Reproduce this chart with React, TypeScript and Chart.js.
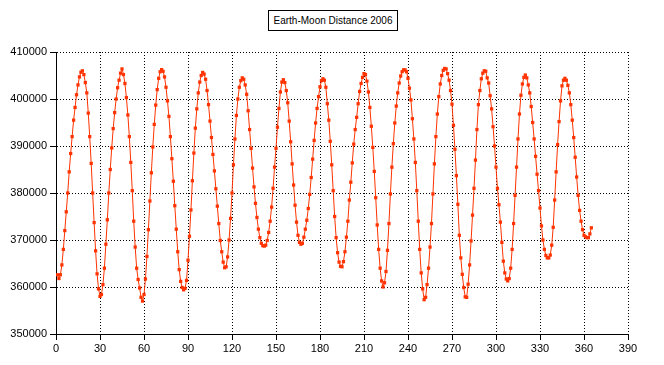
import { useEffect, useRef } from "react";
import { Chart, registerables } from "chart.js";

Chart.register(...registerables);

const chartTitle = "Earth-Moon Distance 2006";
const xTicks = [0, 30, 60, 90, 120, 150, 180, 210, 240, 270, 300, 330, 360, 390];
const yTicks = [350000, 360000, 370000, 380000, 390000, 400000, 410000];

// daily Earth-Moon distance (km), day 1 = Jan 1
const distJan = [362600, 361800, 362600, 364700, 368000, 372000, 376000, 380000, 384500, 388400, 392000, 395500, 398200, 400900, 403000, 404700, 405700, 406000, 405200, 403500, 401300, 397000, 392000, 386300, 380000, 373700, 367700, 362800, 359600, 358000, 358400];
const distFeb = [360500, 364000, 369100, 374300, 380000, 385000, 389600, 393700, 397100, 400000, 402400, 404000, 405500, 406400, 405200, 403300, 400300, 396600, 392000, 386500, 380500, 374000, 368500, 364000, 361600, 359800, 357800, 357000];
const distMar = [358400, 361700, 366500, 372200, 378300, 384300, 389800, 394600, 398700, 402000, 404400, 405800, 406250, 405900, 404700, 402500, 399600, 396300, 392000, 387300, 382500, 377300, 372300, 367500, 363700, 361200, 359900, 359400, 359700, 361400, 365700];
const distApr = [370800, 376400, 382600, 388500, 393800, 397900, 401300, 403600, 405000, 405650, 405300, 404200, 401800, 398800, 395300, 391800, 388200, 384700, 380900, 377200, 373500, 369900, 367500, 365300, 364100, 364300, 366400, 370000, 374600, 380000];
const distMay = [386000, 391500, 396500, 400000, 402500, 403900, 404500, 404200, 403000, 401000, 397500, 393500, 389500, 385300, 381300, 377800, 374800, 372300, 370500, 369300, 368800, 368700, 368900, 369900, 371600, 374000, 377000, 381000, 385500, 389500, 394000];
const distJun = [398000, 401500, 403600, 404100, 403500, 401800, 399200, 395300, 390900, 386200, 381700, 377400, 373800, 371000, 369500, 369100, 369300, 370600, 372300, 374200, 376700, 379700, 383300, 387200, 391200, 394900, 398000, 400500, 402600, 403900];
const distJul = [404300, 404000, 402500, 399000, 395500, 391000, 386000, 380500, 375000, 370500, 367300, 365300, 364400, 364300, 365400, 367500, 370600, 374000, 378500, 382300, 386400, 390400, 393500, 396100, 399000, 401600, 403300, 404600, 405400, 405200, 403800];
const distAug = [401500, 398200, 394200, 389700, 384600, 379000, 373200, 368000, 364000, 361300, 360000, 360900, 363300, 367800, 373500, 379800, 385500, 390500, 394900, 398500, 401300, 403400, 404900, 405800, 406200, 406200, 405800, 404400, 402300, 399800, 395800];
const distSep = [391500, 386500, 380500, 374000, 368000, 363000, 359600, 357300, 357800, 360500, 364000, 368500, 373500, 379800, 386200, 392000, 396800, 400500, 403200, 405000, 406100, 406500, 406400, 405400, 404000, 401800, 398900, 394400, 389300, 383700];
const distOct = [377600, 371000, 366200, 362700, 359900, 357900, 357800, 360600, 364700, 369800, 375300, 381000, 387000, 393500, 398800, 401800, 404300, 405500, 406000, 405900, 404500, 403400, 400700, 397900, 394100, 390000, 385500, 381000, 377500, 373800, 369500];
const distNov = [365500, 363000, 361700, 361300, 361800, 364000, 368000, 373500, 379500, 385500, 391500, 396800, 400800, 403200, 404600, 405100, 404500, 403000, 401300, 398400, 395000, 391500, 387800, 384000, 380500, 376800, 373000, 370000, 368000, 366700];
const distDec = [366200, 366200, 366800, 368900, 372700, 378500, 384500, 390300, 395200, 399600, 402800, 404000, 404400, 404000, 402900, 401300, 398800, 395500, 391800, 387600, 383400, 379500, 376300, 374000, 372200, 371000, 370700, 370500, 370500, 371300, 372600];

const distance = [distJan, distFeb, distMar, distApr, distMay, distJun, distJul, distAug, distSep, distOct, distNov, distDec].flat();
const points = distance.map((v, i) => ({ x: i + 1, y: v }));

const lineColor = "#ff3300";
const tickFont = { family: "'Liberation Sans', Arial, sans-serif", size: 11 };

export default function App() {
  const ref = useRef<HTMLCanvasElement>(null);

  useEffect(() => {
    const axisCommon = {
      grid: { color: "#000", lineWidth: 1, tickLength: 6, tickColor: "#000", tickWidth: 1 },
      border: { display: true, color: "#000", width: 1, dash: [1, 2] },
    };
    const chart = new Chart(ref.current as HTMLCanvasElement, {
      type: "line",
      data: {
        datasets: [
          {
            data: points,
            borderColor: lineColor,
            backgroundColor: lineColor,
            borderWidth: 1,
            pointStyle: "rect",
            pointRadius: 2.3,
            pointBorderWidth: 0,
            pointBackgroundColor: lineColor,
            tension: 0,
          },
        ],
      },
      options: {
        animation: false,
        responsive: false,
        events: [],
        layout: { padding: { left: 0, right: 36, top: 52, bottom: 0 } },
        plugins: { legend: { display: false }, tooltip: { enabled: false }, title: { display: false } },
        scales: {
          x: {
            type: "linear",
            min: 0,
            max: 390,
            ...axisCommon,
            afterBuildTicks: (s: any) => {
              s.ticks = xTicks.map((v) => ({ value: v }));
            },
            afterFit: (s: any) => {
              s.height = 31;
            },
            ticks: {
              color: "#000",
              font: tickFont,
              padding: 2,
              maxRotation: 0,
              autoSkip: false,
              callback: (v: any) => String(v),
            },
          },
          y: {
            type: "linear",
            min: 350000,
            max: 410000,
            ...axisCommon,
            afterBuildTicks: (s: any) => {
              s.ticks = yTicks.map((v) => ({ value: v }));
            },
            afterFit: (s: any) => {
              s.width = 56;
            },
            ticks: {
              color: "#000",
              font: tickFont,
              padding: 3,
              autoSkip: false,
              callback: (v: any) => String(v),
            },
          },
        },
      },
    } as any);
    return () => chart.destroy();
  }, []);

  return (
    <div style={{ position: "absolute", left: 0, top: 0, width: 664, height: 365, background: "#fff" }}>
      <canvas ref={ref} width={664} height={365} style={{ display: "block", width: 664, height: 365 }} />
      <div
        style={{
          position: "absolute",
          left: 268,
          top: 10,
          width: 130,
          height: 21,
          boxSizing: "border-box",
          border: "1px solid #000",
          background: "#fff",
          fontFamily: "'Liberation Sans', Arial, sans-serif",
          fontSize: 10,
          lineHeight: "19px",
          textAlign: "center",
          color: "#000",
          whiteSpace: "nowrap",
        }}
      >
        {chartTitle}
      </div>
    </div>
  );
}
